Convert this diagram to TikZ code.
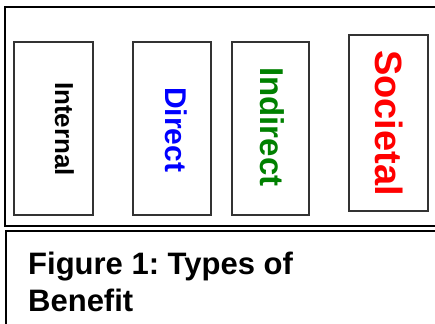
\documentclass[tikz,border=0pt]{standalone}
\usepackage{fontspec}
\setmainfont{Liberation Sans}
\frenchspacing
\definecolor{boxgray}{RGB}{51,51,51}
\definecolor{indirectgreen}{RGB}{0,128,0}
\tikzset{
  frame/.style={draw=black, line width=2pt},
  benefitbox/.style={draw=boxgray, line width=1.5pt},
  benefitlabel/.style={rotate=-90, anchor=base west, inner sep=0pt, font=\bfseries}
}
\begin{document}
\begin{tikzpicture}[x=1pt, y=-1pt]
    \useasboundingbox (0,0) rectangle (435,323);
    \clip (0,0) rectangle (435,323);

    % Outer frames
    \draw[frame] (5,7) rectangle (445,226);
    \draw[frame] (6,231) rectangle (445,335);

    % Benefit boxes
    \draw[benefitbox] (14,42) rectangle (93,215);
    \draw[benefitbox] (133,42) rectangle (211,215);
    \draw[benefitbox] (232,42) rectangle (309,215);
    \draw[benefitbox] (349,35) rectangle (428,211);

    % Labels
    \node[benefitlabel, font=\bfseries\fontsize{26}{30}\selectfont] (internal) at (55,82) {Internal};
    \node[benefitlabel, text=blue, font=\bfseries\fontsize{30}{34}\selectfont] (direct) at (165,87) {Direct};
    \node[benefitlabel, text=indirectgreen, font=\bfseries\fontsize{33}{37}\selectfont] (indirect) at (260,67) {Indirect};
    \node[benefitlabel, text=red, font=\bfseries\fontsize{38}{42}\selectfont] (societal) at (375,50) {Societal};

    % Caption
    \node[anchor=base west, inner sep=0pt, align=left, font=\bfseries\fontsize{31}{37}\selectfont] (caption) at (28,311) {Figure 1: Types of\\Benefit};
\end{tikzpicture}
\end{document}
